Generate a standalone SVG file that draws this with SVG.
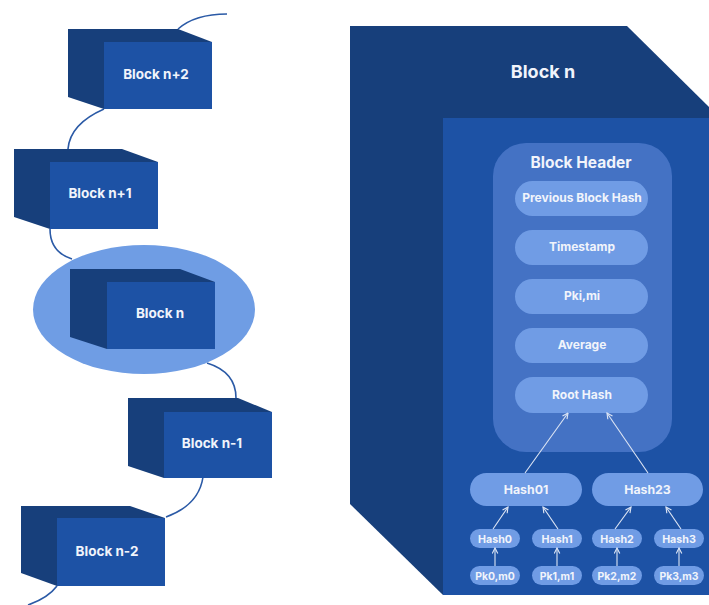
<svg xmlns="http://www.w3.org/2000/svg" width="709" height="605" viewBox="0 0 709 605">
<defs>
<style>
.back{fill:#173f7b}
.front{fill:#1d52a5}
.hdr{fill:#4472c4}
.pill{fill:#709ce5}
.lbl{font-family:Inter,"Liberation Sans",sans-serif;font-weight:700;fill:#f1f4fb;text-anchor:middle}
.link{fill:none;stroke:#2b5aa6;stroke-width:1.6}
.arr{stroke:#dde5f4;stroke-width:1.1;fill:none;marker-end:url(#ah)}
</style>
<marker id="ah" viewBox="0 0 10 10" refX="9" refY="5" markerWidth="7" markerHeight="7" orient="auto" markerUnits="userSpaceOnUse">
<path d="M1,1 L9,5 L1,9" fill="none" stroke="#dde5f4" stroke-width="1.6"/>
</marker>
</defs>
<rect width="709" height="605" fill="#ffffff"/>

<g id="connectors">
<path class="link" d="M178,29 Q195,14 227,14"/>
<path class="link" d="M104,109 Q70,124 68,149"/>
<path class="link" d="M50,229 Q50,252 72,259"/>
<path class="link" d="M207,363 Q236,372 236,398"/>
<path class="link" d="M203,477 Q199,505 166,517"/>
<path class="link" d="M57,586 Q48,598 28,605"/>
</g>

<g id="block-n2">
<polygon class="back" points="68,29 178,29 212,42 212,109 104,109 68,97"/>
<rect class="front" x="104" y="42" width="108" height="67"/>
<text class="lbl" x="156" y="79" font-size="13.5">Block n+2</text>
</g>

<g id="block-n1">
<polygon class="back" points="14,149 122,149 158,162 158,229 50,229 14,217"/>
<rect class="front" x="50" y="162" width="108" height="67"/>
<text class="lbl" x="100" y="198" font-size="13.5">Block n+1</text>
</g>

<g id="block-n-small">
<ellipse cx="144" cy="309.5" rx="111" ry="64.5" fill="#6f9de4"/>
<polygon class="back" points="70,269 180,269 215,282 215,349 107,349 70,337"/>
<rect class="front" x="107" y="282" width="108" height="67"/>
<text class="lbl" x="160" y="318" font-size="13.5">Block n</text>
</g>

<g id="block-nm1">
<polygon class="back" points="128,398 238,398 272,412 272,478 164,478 128,466"/>
<rect class="front" x="164" y="412" width="108" height="66"/>
<text class="lbl" x="212" y="448" font-size="13.5">Block n-1</text>
</g>

<g id="block-nm2">
<polygon class="back" points="21,506 130,506 165,518 165,586 57,586 21,573"/>
<rect class="front" x="57" y="518" width="108" height="68"/>
<text class="lbl" x="107" y="556" font-size="13.5">Block n-2</text>
</g>

<g id="block-n-big">
<polygon class="back" points="350,26 627,26 720,118 720,595 443,595 350,504"/>
<rect class="front" x="443" y="118" width="277" height="477"/>
<text class="lbl" x="543" y="78" font-size="18">Block n</text>
</g>

<g id="block-header">
<rect class="hdr" x="493" y="143" width="179" height="309" rx="33"/>
<text class="lbl" x="581" y="168" font-size="15.5">Block Header</text>
</g>

<g id="prev-hash">
<rect class="pill" x="515" y="181" width="133" height="35" rx="17.5"/>
<text class="lbl" x="582" y="202" font-size="12">Previous Block Hash</text>
</g>
<g id="timestamp">
<rect class="pill" x="515" y="230" width="133" height="35" rx="17.5"/>
<text class="lbl" x="582" y="251" font-size="12">Timestamp</text>
</g>
<g id="pki">
<rect class="pill" x="515" y="279" width="133" height="35" rx="17.5"/>
<text class="lbl" x="582" y="300" font-size="12">Pki,mi</text>
</g>
<g id="average">
<rect class="pill" x="515" y="328" width="133" height="35" rx="17.5"/>
<text class="lbl" x="582" y="349" font-size="12">Average</text>
</g>
<g id="root-hash">
<rect class="pill" x="515" y="377" width="133" height="36" rx="18"/>
<text class="lbl" x="582" y="399" font-size="12">Root Hash</text>
</g>

<g id="hash01">
<rect class="pill" x="470" y="473" width="112" height="33" rx="16.5"/>
<text class="lbl" x="526" y="494" font-size="12.3">Hash01</text>
</g>
<g id="hash23">
<rect class="pill" x="592" y="473" width="111" height="33" rx="16.5"/>
<text class="lbl" x="647.5" y="494" font-size="12.3">Hash23</text>
</g>

<g id="hash0"><rect class="pill" x="470" y="529" width="50" height="19" rx="9.5"/><text class="lbl" x="495" y="542.5" font-size="10.7">Hash0</text></g>
<g id="hash1"><rect class="pill" x="532" y="529" width="50" height="19" rx="9.5"/><text class="lbl" x="557" y="542.5" font-size="10.7">Hash1</text></g>
<g id="hash2"><rect class="pill" x="592" y="529" width="50" height="19" rx="9.5"/><text class="lbl" x="617" y="542.5" font-size="10.7">Hash2</text></g>
<g id="hash3"><rect class="pill" x="654" y="529" width="50" height="19" rx="9.5"/><text class="lbl" x="679" y="542.5" font-size="10.7">Hash3</text></g>

<g id="pk0"><rect class="pill" x="470" y="566" width="50" height="19" rx="9.5"/><text class="lbl" x="495" y="579.5" font-size="10.4">Pk0,m0</text></g>
<g id="pk1"><rect class="pill" x="532" y="566" width="50" height="19" rx="9.5"/><text class="lbl" x="557" y="579.5" font-size="10.4">Pk1,m1</text></g>
<g id="pk2"><rect class="pill" x="592" y="566" width="50" height="19" rx="9.5"/><text class="lbl" x="617" y="579.5" font-size="10.4">Pk2,m2</text></g>
<g id="pk3"><rect class="pill" x="654" y="566" width="50" height="19" rx="9.5"/><text class="lbl" x="679" y="579.5" font-size="10.4">Pk3,m3</text></g>

<g id="tree-arrows">
<line class="arr" x1="525" y1="473" x2="568" y2="413"/>
<line class="arr" x1="648" y1="473" x2="607" y2="413"/>
<line class="arr" x1="493" y1="529" x2="508" y2="507"/>
<line class="arr" x1="558" y1="529" x2="543" y2="507"/>
<line class="arr" x1="615" y1="529" x2="631" y2="507"/>
<line class="arr" x1="681" y1="529" x2="666" y2="507"/>
<line class="arr" x1="495" y1="566" x2="495" y2="548"/>
<line class="arr" x1="557" y1="566" x2="557" y2="548"/>
<line class="arr" x1="617" y1="566" x2="617" y2="548"/>
<line class="arr" x1="679" y1="566" x2="679" y2="548"/>
</g>
</svg>
